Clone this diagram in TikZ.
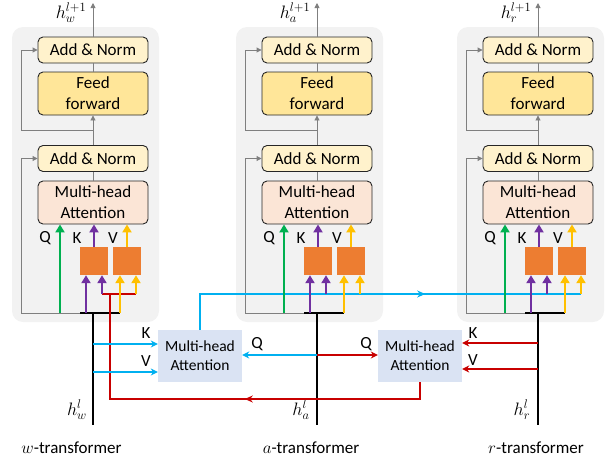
\RequirePackage{fix-cm}
\documentclass[tikz,border=0pt]{standalone}
\usepackage{fontspec}
\setmainfont{Carlito}
\usetikzlibrary{arrows.meta,decorations.markings,calc}
\definecolor{panelgray}{HTML}{F2F2F2}
\definecolor{anfill}{HTML}{FFF2CC}
\definecolor{fffill}{HTML}{FFE699}
\definecolor{mhfill}{HTML}{FBE5D6}
\definecolor{orangeb}{HTML}{ED7D31}
\definecolor{qgreen}{HTML}{00B050}
\definecolor{kpurple}{HTML}{7030A0}
\definecolor{vyellow}{HTML}{FFC000}
\definecolor{cblue}{HTML}{00B0F0}
\definecolor{cred}{HTML}{C80000}
\definecolor{boxblue}{HTML}{DAE3F3}
\definecolor{lgray}{HTML}{7F7F7F}
\begin{document}
\begin{tikzpicture}[x=1pt,y=-1pt,
  txt/.style={font=\fontsize{17}{21}\selectfont},
  panel/.style={fill=panelgray, rounded corners=11pt, minimum width=147pt, minimum height=295pt, inner sep=0pt},
  blk/.style={draw=black!85, line width=0.9pt, rounded corners=5pt, minimum width=110pt, inner sep=0pt, align=center, txt},
  an/.style={blk, fill=anfill, minimum height=26pt},
  ff/.style={blk, fill=fffill, minimum height=43pt},
  mh/.style={blk, fill=mhfill, minimum height=43pt},
  ob/.style={fill=orangeb, minimum width=28pt, minimum height=28pt, inner sep=0pt},
  bb/.style={fill=boxblue, minimum width=84pt, minimum height=52pt, inner sep=0pt, align=center, font=\fontsize{15.5}{19}\selectfont},
  gline/.style={draw=lgray, line width=0.9pt},
  garrow/.style={-{Triangle[width=5pt,length=5pt]}},
  carrow/.style={line width=2.8pt, -{Triangle[width=9pt,length=8pt]}},
  bline/.style={draw=black, line width=2.6pt},
  redl/.style={draw=cred, line width=1.5pt},
  bluel/.style={draw=cblue, line width=1.5pt},
  carr/.style={-{Stealth[length=7pt,width=7pt]}},
  hlab/.style={font=\fontsize{18}{20}\selectfont, inner sep=0pt},
]
\useasboundingbox (0,0) rectangle (605,461);

\foreach \dx/\n/\tx in {0/w/71.5, 224/a/311, 445/r/536}{
  \node[panel] (pan\n) at (85.5+\dx,174.5) {};
  \node[an] (an1\n) at (93+\dx,50) {Add \& Norm};
  \node[ff] (ff\n) at (93+\dx,93.5) {Feed\\forward};
  \node[an] (an2\n) at (93+\dx,158.5) {Add \& Norm};
  \node[mh] (mh\n) at (93+\dx,202.5) {Multi-head\\Attention};
  \node[ob] (oba\n) at (94+\dx,261) {};
  \node[ob] (obb\n) at (127+\dx,261) {};
  \node[txt, inner sep=0pt] (Q\n) at (45+\dx,238) {Q};
  \node[txt, inner sep=0pt] (K\n) at (77+\dx,238) {K};
  \node[txt, inner sep=0pt] (V\n) at (113+\dx,238) {V};
  \coordinate (base\n) at (93+\dx,313);
  \coordinate (bot\n) at (93+\dx,425);
  \coordinate (lb\n) at (21+\dx,313);
  \coordinate (bl\n) at (80+\dx,313);
  \coordinate (qs\n) at (60+\dx,313);
  \coordinate (pa\n) at (86+\dx,313);
  \coordinate (pb\n) at (102+\dx,294);
  \coordinate (ya\n) at (120+\dx,313);
  \coordinate (yb\n) at (136+\dx,294);
  \coordinate (br\n) at (93+\dx,130);
  \coordinate (lt\n) at (21+\dx,130);
  \coordinate (top\n) at (93+\dx,3);
  % thin gray connectors
  \draw[gline] (lb\n) -- (ya\n);
  \draw[gline, garrow] (lb\n) |- (an2\n.west);
  \draw[gline, garrow] (an2\n.north) -- (ff\n.south);
  \draw[gline, garrow] (br\n) -- (lt\n) |- (an1\n.west);
  \draw[gline] (an2\n.south) -- (mh\n.north);
  \draw[gline] (ff\n.north) -- (an1\n.south);
  \draw[gline, garrow] (an1\n.north) -- (top\n);
  \draw[draw=black, line width=1.3pt] (bl\n) -- (ya\n);
  \draw[bline] (base\n) -- (bot\n);
  % labels
  \node[hlab] (hout\n) at (71+\dx,13) {$h_\n^{l+1}$};
  \node[hlab] (hin\n) at (77+\dx,410) {$h_\n^{l}$};
  \node[txt, inner sep=0pt] (tr\n) at (\tx,448) {$\n$-transformer};
}

% bottom attention boxes
\node[bb] (attw) at (200,356) {Multi-head\\Attention};
\node[bb] (attr) at (420,356) {Multi-head\\Attention};
\coordinate (kw) at (93,344);
\coordinate (vw) at (93,372);
\coordinate (qa) at (317,355);
\coordinate (kr) at (538,343);
\coordinate (vr) at (538,369);
\coordinate (rb) at (110,399);
\coordinate (rt) at (110,294);

% red path from right box back to w-transformer
\draw[redl, postaction={decorate}, decoration={markings, mark=at position 192pt with {\arrow{Stealth[length=8pt,width=7pt]}}}] (attr.south) |- (rb) -- (rt);
\draw[redl] (pbw) -- (ybw);

% blue path from left box to r-transformer
\draw[bluel, postaction={decorate}, decoration={markings, mark=at position 261pt with {\arrow{Stealth[length=8pt,width=7pt]}}}] (attw.north) |- (ybr);

% inputs of the bottom boxes
\draw[bluel, carr] (kw) -- (kw -| attw.west);
\draw[bluel, carr] (vw) -- (vw -| attw.west);
\draw[bluel, carr] (qa) -- (qa -| attw.east);
\draw[redl, carr] (qa) -- (qa -| attr.west);
\draw[redl, carr] (kr) -- (kr -| attr.east);
\draw[redl, carr] (vr) -- (vr -| attr.east);
\node[txt, inner sep=0pt] (lkw) at (146,333) {K};
\node[txt, inner sep=0pt] (lvw) at (146,361) {V};
\node[txt, inner sep=0pt] (lqa) at (257,344) {Q};
\node[txt, inner sep=0pt] (lqr) at (366,344) {Q};
\node[txt, inner sep=0pt] (lkr) at (473,333) {K};
\node[txt, inner sep=0pt] (lvr) at (473,360) {V};

% coloured arrows in the panels
\foreach \n in {w,a,r}{
  \draw[carrow, qgreen] (qs\n) -- (qs\n |- mh\n.south);
  \draw[carrow, kpurple] (oba\n.north) -- (oba\n.north |- mh\n.south);
  \draw[carrow, vyellow] (obb\n.north) -- (obb\n.north |- mh\n.south);
  \draw[carrow, kpurple] (pa\n) -- (pa\n |- oba\n.south);
  \draw[carrow, kpurple] (pb\n) -- (pb\n |- oba\n.south);
  \draw[carrow, vyellow] (ya\n) -- (ya\n |- obb\n.south);
  \draw[carrow, vyellow] (yb\n) -- (yb\n |- obb\n.south);
}
\end{tikzpicture}
\end{document}
